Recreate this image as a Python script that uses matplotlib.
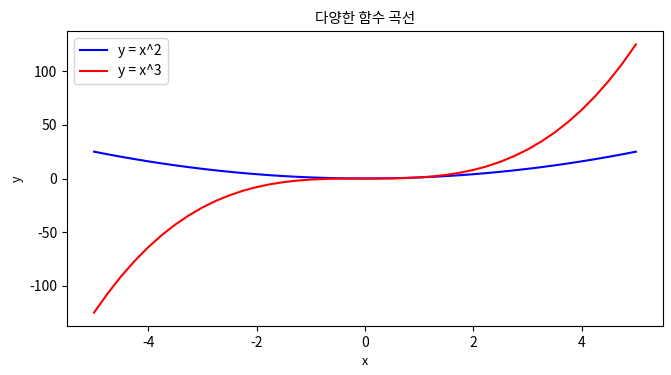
import matplotlib
matplotlib.use("Agg")
import matplotlib.pyplot as plt

plt.rcParams['font.family'] = ['Noto Sans CJK KR', 'DejaVu Sans']
plt.rcParams['axes.unicode_minus'] = False

x_values = [-5.0, -4.75, -4.5, -4.25, -4.0, -3.75, -3.5, -3.25, -3.0, -2.75, -2.5, -2.25,
            -2.0, -1.75, -1.5, -1.25, -1.0, -0.75, -0.5, -0.25, 0.0, 0.25, 0.5, 0.75,
            1.0, 1.25, 1.5, 1.75, 2.0, 2.25, 2.5, 2.75, 3.0, 3.25, 3.5, 3.75, 4.0,
            4.25, 4.5, 4.75, 5.0]
square_values = [25.0, 22.56, 20.25, 18.06, 16.0, 14.06, 12.25, 10.56, 9.0, 7.56, 6.25, 5.06,
                 4.0, 3.06, 2.25, 1.56, 1.0, 0.56, 0.25, 0.06, 0.0, 0.06, 0.25, 0.56,
                 1.0, 1.56, 2.25, 3.06, 4.0, 5.06, 6.25, 7.56, 9.0, 10.56, 12.25, 14.06, 16.0,
                 18.06, 20.25, 22.56, 25.0]
cube_values = [-125.0, -107.17, -91.13, -76.77, -64.0, -52.73, -42.88, -34.33, -27.0, -20.8,
               -15.63, -11.39, -8.0, -5.36, -3.38, -1.95, -1.0, -0.42, -0.13, -0.02, 0.0,
               0.02, 0.13, 0.42, 1.0, 1.95, 3.38, 5.36, 8.0, 11.39, 15.63, 20.8, 27.0,
               34.33, 42.88, 52.73, 64.0, 76.77, 91.13, 107.17, 125.0]
series_labels = ['y = x^2', 'y = x^3']

fig = plt.figure(figsize=(6.71, 3.75), dpi=100)
ax = fig.add_axes([67/671, 1 - 326/375, (663-67)/671, (326-31)/375])
ax.plot(x_values, square_values, color='blue', label=series_labels[0], lw=1.5)
ax.plot(x_values, cube_values, color='red', label=series_labels[1], lw=1.5)
ax.set_title('다양한 함수 곡선', fontsize=10.5)
ax.set_xlabel('x', fontsize=9)
ax.set_ylabel('y', fontsize=9)
ax.tick_params(labelsize=10)
ax.legend(loc='upper left', fontsize=10)
fig.savefig('out.png', dpi=100)
